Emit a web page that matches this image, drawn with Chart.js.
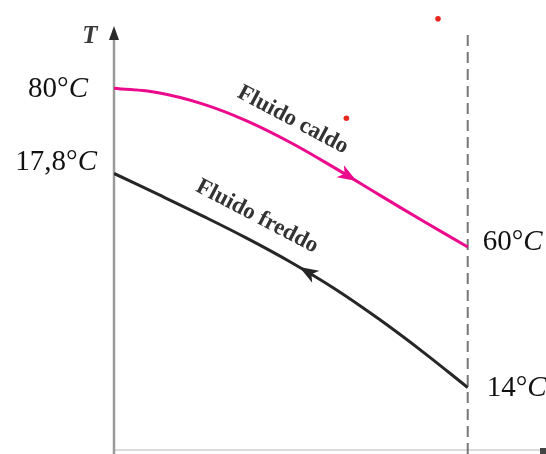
<!DOCTYPE html>
<html>
<head>
<style>
  body { margin: 0; background: #fff; overflow: hidden; }
  #wrap { width: 546px; height: 454px; }
</style>
<script src="https://cdn.jsdelivr.net/npm/chart.js"></script>
</head>
<body>
<div id="wrap"><canvas id="tChart" width="546" height="454"></canvas></div>
<script>
// schematic T profile along the exchanger (arbitrary units)
const positions = [0, 0.125, 0.25, 0.375, 0.5, 0.625, 0.75, 0.875, 1];
const hotTemps = [81.1, 80.1, 77.6, 73.8, 68.9, 63.2, 57.2, 51.3, 45.5];
const coldTemps = [62.0, 57.3, 52.5, 47.5, 42.1, 36.1, 29.3, 21.9, 14.0];
const seriesNames = ['Fluido caldo', 'Fluido freddo'];
const inletLabels = ['80°', '17,8°'];
const outletLabels = ['60°', '14°'];
const strayX = [0.916, 0.657];
const strayY = [96.7, 74.4];

// cubic segment between two line points, using Chart.js control points
function bezierAt(a, b, t) {
  const u = 1 - t;
  const c1x = a.cp2x, c1y = a.cp2y, c2x = b.cp1x, c2y = b.cp1y;
  return {
    x: u*u*u*a.x + 3*u*u*t*c1x + 3*u*t*t*c2x + t*t*t*b.x,
    y: u*u*u*a.y + 3*u*u*t*c1y + 3*u*t*t*c2y + t*t*t*b.y,
    dx: 3*u*u*(c1x - a.x) + 6*u*t*(c2x - c1x) + 3*t*t*(b.x - c2x),
    dy: 3*u*u*(c1y - a.y) + 6*u*t*(c2y - c1y) + 3*t*t*(b.y - c2y)
  };
}

function curveAt(points, px) {
  for (let i = 0; i < points.length - 1; i++) {
    const a = points[i], b = points[i + 1];
    if (px >= a.x && px <= b.x) {
      let lo = 0, hi = 1;
      for (let k = 0; k < 30; k++) {
        const mid = (lo + hi) / 2;
        if (bezierAt(a, b, mid).x < px) lo = mid; else hi = mid;
      }
      const p = bezierAt(a, b, (lo + hi) / 2);
      const len = Math.hypot(p.dx, p.dy);
      p.ux = p.dx / len; p.uy = p.dy / len;
      return p;
    }
  }
}

// value text like "80°C" with an italic C
function tempLabel(ctx, txt, x, y, align) {
  ctx.font = '29px "Liberation Serif", serif';
  const w1 = ctx.measureText(txt).width;
  ctx.font = 'italic 29px "Liberation Serif", serif';
  const w2 = ctx.measureText('C').width;
  const left = align === 'right' ? x - w1 - w2 : x;
  ctx.textAlign = 'left';
  ctx.textBaseline = 'middle';
  ctx.fillStyle = '#111';
  ctx.font = '29px "Liberation Serif", serif';
  ctx.fillText(txt, left, y);
  ctx.font = 'italic 29px "Liberation Serif", serif';
  ctx.fillText('C', left + w1, y);
}

const diagram = {
  id: 'diagram',
  beforeDatasetsDraw(chart) {
    const ctx = chart.ctx;
    const xs = chart.scales.x, ys = chart.scales.y;
    const x0 = xs.getPixelForValue(0);
    const x1 = xs.getPixelForValue(1);
    const yb = ys.getPixelForValue(0);
    ctx.save();
    // bottom axis
    ctx.strokeStyle = '#d0d0d0';
    ctx.lineWidth = 1.5;
    ctx.beginPath();
    ctx.moveTo(x0, yb); ctx.lineTo(546, yb);
    ctx.stroke();
    ctx.fillStyle = '#444';
    ctx.beginPath();
    ctx.moveTo(540, yb - 2); ctx.lineTo(546, yb - 2); ctx.lineTo(546, 454); ctx.lineTo(540, 454);
    ctx.fill();
    // T axis
    ctx.strokeStyle = '#9a9a9a';
    ctx.lineWidth = 2.5;
    ctx.beginPath();
    ctx.moveTo(x0, 36); ctx.lineTo(x0, 454);
    ctx.stroke();
    ctx.fillStyle = '#2a2a2a';
    ctx.beginPath();
    ctx.moveTo(x0, 26); ctx.lineTo(x0 + 5, 40); ctx.lineTo(x0 - 5, 40);
    ctx.closePath();
    ctx.fill();
    ctx.font = 'italic bold 25px "Liberation Serif", serif';
    ctx.textAlign = 'center';
    ctx.textBaseline = 'middle';
    ctx.fillStyle = '#3a3a3a';
    ctx.fillText('T', 90, 37);
    // exchanger outlet
    ctx.strokeStyle = '#777';
    ctx.lineWidth = 2;
    ctx.setLineDash([11, 6]);
    ctx.beginPath();
    ctx.moveTo(x1, 35); ctx.lineTo(x1, 454);
    ctx.stroke();
    ctx.restore();
  },
  afterDatasetsDraw(chart) {
    const ctx = chart.ctx;
    const flows = [
      { arrowAt: 348, dir: 1, textAt: 283, lift: 21 },
      { arrowAt: 308, dir: -1, textAt: 246, lift: 24 }
    ];
    ctx.save();
    flows.forEach((f, i) => {
      const pts = chart.getDatasetMeta(i).data;
      const color = chart.data.datasets[i].borderColor;
      // flow direction arrow
      const p = curveAt(pts, f.arrowAt);
      const ux = p.ux * f.dir, uy = p.uy * f.dir;
      ctx.fillStyle = color;
      ctx.beginPath();
      ctx.moveTo(p.x + ux * 10, p.y + uy * 10);
      ctx.lineTo(p.x - ux * 9 - uy * 7, p.y - uy * 9 + ux * 7);
      ctx.lineTo(p.x - ux * 4, p.y - uy * 4);
      ctx.lineTo(p.x - ux * 9 + uy * 7, p.y - uy * 9 - ux * 7);
      ctx.closePath();
      ctx.fill();
      // series name along the curve
      const q = curveAt(pts, f.textAt);
      ctx.save();
      ctx.translate(q.x + q.uy * f.lift, q.y - q.ux * f.lift);
      ctx.rotate(Math.atan2(q.uy, q.ux));
      ctx.font = 'bold 23px "Liberation Serif", serif';
      ctx.fillStyle = '#333';
      ctx.textAlign = 'center';
      ctx.textBaseline = 'middle';
      ctx.fillText(seriesNames[i], 0, 0);
      ctx.restore();
    });
    // inlet / outlet temperatures
    const hot = chart.getDatasetMeta(0).data, cold = chart.getDatasetMeta(1).data;
    tempLabel(ctx, inletLabels[0], hot[0].x - 26, hot[0].y + 1, 'right');
    tempLabel(ctx, inletLabels[1], cold[0].x - 17, cold[0].y - 11, 'right');
    tempLabel(ctx, outletLabels[0], hot[hot.length - 1].x + 15, hot[hot.length - 1].y - 5, 'left');
    tempLabel(ctx, outletLabels[1], cold[cold.length - 1].x + 19, cold[cold.length - 1].y + 1, 'left');
    ctx.restore();
  }
};

new Chart(document.getElementById('tChart'), {
  type: 'line',
  data: {
    datasets: [
      {
        label: seriesNames[0],
        data: positions.map((x, i) => ({ x: x, y: hotTemps[i] })),
        borderColor: '#ec0a8c',
        borderWidth: 3,
        pointRadius: 0,
        tension: 0.4
      },
      {
        label: seriesNames[1],
        data: positions.map((x, i) => ({ x: x, y: coldTemps[i] })),
        borderColor: '#262626',
        borderWidth: 3,
        pointRadius: 0,
        tension: 0.4
      },
      {
        type: 'scatter',
        label: 'punti',
        data: strayX.map((x, i) => ({ x: x, y: strayY[i] })),
        backgroundColor: '#e8281e',
        borderWidth: 0,
        pointRadius: 2.8
      }
    ]
  },
  options: {
    responsive: false,
    animation: false,
    layout: { padding: { left: 114, right: 1, top: 3, bottom: 1 } },
    plugins: { legend: { display: false }, tooltip: { enabled: false } },
    scales: {
      x: { type: 'linear', min: 0, max: 1.21, display: false },
      y: { min: 0, max: 100, display: false }
    }
  },
  plugins: [diagram]
});
</script>
</body>
</html>
